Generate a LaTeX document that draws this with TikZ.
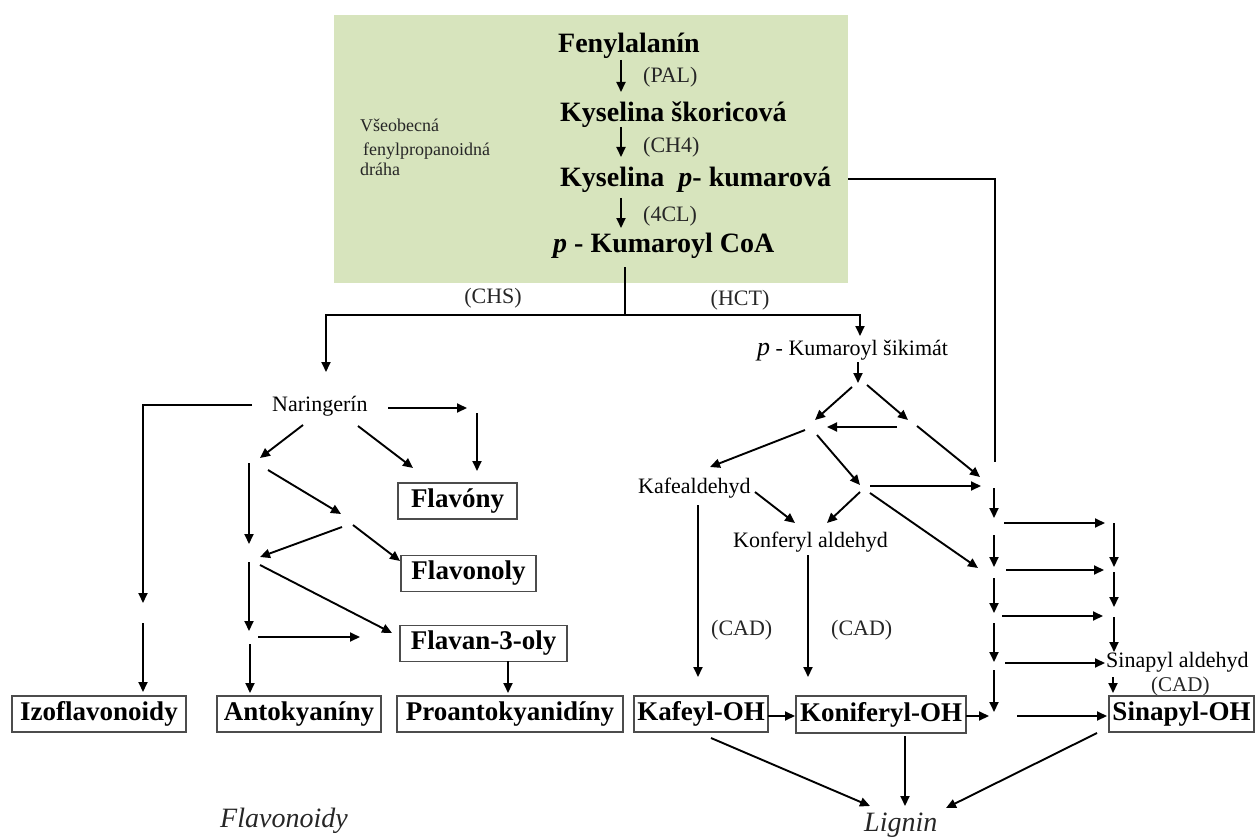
\documentclass[tikz,border=0pt]{standalone}
\usepackage{fontspec}
\setmainfont{Liberation Serif}
\usetikzlibrary{arrows.meta}
\definecolor{boxgreen}{HTML}{D7E4BD}
\begin{document}
\begin{tikzpicture}[x=1pt,y=-1pt,
  arr/.style={line width=1.9pt,-{Triangle[length=10pt,width=9pt]}},
  ln/.style={line width=1.8pt},
  bigtxt/.style={font=\fontsize{28}{32}\selectfont\bfseries,anchor=base west,inner sep=0},
  reg/.style={font=\fontsize{22}{26}\selectfont,anchor=base west,inner sep=0},
  enz/.style={font=\fontsize{22}{26}\selectfont,anchor=base west,inner sep=0,text=black!85},
  small/.style={font=\fontsize{18}{22}\selectfont,anchor=base west,inner sep=0,text=black!85},
  prod/.style={draw=black!70,line width=1.2pt,font=\fontsize{27}{30}\selectfont\bfseries,inner sep=0,minimum height=36pt},
  ital/.style={font=\fontsize{28}{32}\selectfont\itshape,anchor=base west,inner sep=0,text=black!85},
]
\useasboundingbox (0,0) rectangle (1255,837);
% general pathway box
\node[fill=boxgreen,inner sep=0,minimum width=514pt,minimum height=268pt,anchor=north west] (general) at (334,15) {};
\node[small] (vs1) at (360,132) {Všeobecná};
\node[small] (vs2) at (363,156) {fenylpropanoidná};
\node[small] (vs3) at (360,176) {dráha};
\node[bigtxt] (fen) at (558,53) {Fenylalanín};
\node[bigtxt] (sko) at (560,122) {Kyselina škoricová};
\node[bigtxt] (kum) at (560,187) {Kyselina\hspace{0.5em}\textit{p}- kumarová};
\node[bigtxt] (coa) at (553,252) {\textit{p} - Kumaroyl CoA};
\node[enz] (pal) at (643,83) {(PAL)};
\node[enz] (ch4) at (643,153) {(CH4)};
\node[enz] (cl4) at (643,222) {(4CL)};
\coordinate (a1s) at (621,60);  \coordinate (a1e) at (621,92);
\coordinate (a2s) at (621,127); \coordinate (a2e) at (621,157);
\coordinate (a3s) at (621,198); \coordinate (a3e) at (621,228);
\draw[arr] (a1s) -- (a1e);
\draw[arr] (a2s) -- (a2e);
\draw[arr] (a3s) -- (a3e);
% split
\coordinate (coaout) at (625,267);
\coordinate (split) at (625,315);
\coordinate (narin) at (326,372);
\coordinate (sikin) at (860,336);
\draw[ln] (coaout) -- (split);
\draw[arr] (split) -| (narin);
\draw[arr] (split) -| (sikin);
\node[enz,anchor=base] (chs) at (493,303) {(CHS)};
\node[enz,anchor=base] (hct) at (740,305) {(HCT)};
% kumarova bypass line
\coordinate (kumout) at (848,179);
\coordinate (kumcorner) at (995,179);
\coordinate (kumend) at (995,462);
\draw[ln] (kumout) -- (kumcorner) -- (kumend);

% ---------- flavonoids ----------
\node[reg] (nar) at (272,411) {Naringerín};
\node[prod,minimum width=119pt] (flavony) at (457.5,501) {Flavóny};
\node[prod,minimum width=135pt] (flavonoly) at (468.5,573.5) {Flavonoly};
\node[prod,minimum width=167pt] (flavan) at (483.5,643.5) {Flavan-3-oly};
\node[prod,minimum width=174pt] (izo) at (99,714) {Izoflavonoidy};
\node[prod,minimum width=164pt] (anto) at (299,714) {Antokyaníny};
\node[prod,minimum width=226pt] (proanto) at (510,714) {Proantokyanidíny};
\node[ital] (flavonoidy) at (220,827) {Flavonoidy};

\coordinate (n1s) at (252,405); \coordinate (n1e) at (143,603);
\coordinate (n2s) at (143,623); \coordinate (n2e) at (143,692);
\coordinate (n3s) at (388,408); \coordinate (n3e) at (467,408);
\coordinate (n4s) at (477,413); \coordinate (n4e) at (477,471);
\coordinate (n5s) at (303,425); \coordinate (n5e) at (260,458);
\coordinate (n6s) at (358,426); \coordinate (n6e) at (413,468);
\coordinate (n7s) at (249,463); \coordinate (n7e) at (249,544);
\coordinate (n8s) at (268,470); \coordinate (n8e) at (341,514);
\coordinate (n9s) at (342,527); \coordinate (n9e) at (260,557);
\coordinate (n10s) at (353,525); \coordinate (n10e) at (400,561);
\coordinate (n11s) at (249,562); \coordinate (n11e) at (249,631);
\coordinate (n12s) at (260,565); \coordinate (n12e) at (392,633);
\coordinate (n13s) at (258,637); \coordinate (n13e) at (360,637);
\coordinate (n14s) at (250,644); \coordinate (n14e) at (250,693);
\coordinate (n15s) at (508,661); \coordinate (n15e) at (508,693);
\draw[arr] (n1s) -| (n1e);
\draw[arr] (n2s) -- (n2e);
\draw[arr] (n3s) -- (n3e);
\draw[arr] (n4s) -- (n4e);
\draw[arr] (n5s) -- (n5e);
\draw[arr] (n6s) -- (n6e);
\draw[arr] (n7s) -- (n7e);
\draw[arr] (n8s) -- (n8e);
\draw[arr] (n9s) -- (n9e);
\draw[arr] (n10s) -- (n10e);
\draw[arr] (n11s) -- (n11e);
\draw[arr] (n12s) -- (n12e);
\draw[arr] (n13s) -- (n13e);
\draw[arr] (n14s) -- (n14e);
\draw[arr] (n15s) -- (n15e);

% ---------- lignin ----------
\node[reg] (sik) at (757,355) {{\fontsize{26}{28}\selectfont\itshape p} - Kumaroyl šikimát};
\node[reg] (kafald) at (638,493) {Kafealdehyd};
\node[reg] (konald) at (733,547) {Konferyl aldehyd};
\node[enz] (cad1) at (711,635) {(CAD)};
\node[enz] (cad2) at (831,635) {(CAD)};
\node[reg] (sinald) at (1106,667) {Sinapyl aldehyd};
\node[enz,font=\fontsize{21}{24}\selectfont] (cad3) at (1151,691) {(CAD)};
\node[prod,minimum width=134pt] (kafeyl) at (701,714) {Kafeyl-OH};
\node[prod,minimum width=170pt,minimum height=37pt] (konif) at (881,714.5) {Koniferyl-OH};
\node[prod,minimum width=145pt] (sinoh) at (1181.5,714) {Sinapyl-OH};
\node[ital] (lignin) at (864,831) {Lignin};

\coordinate (la1) at (858,362); \coordinate (la2) at (858,383);
\coordinate (lb1) at (852,387); \coordinate (lb2) at (815,420);
\coordinate (lc1) at (867,385); \coordinate (lc2) at (908,420);
\coordinate (ld1) at (897,427); \coordinate (ld2) at (827,427);
\coordinate (le1) at (805,430); \coordinate (le2) at (710,467);
\coordinate (lf1) at (817,435); \coordinate (lf2) at (860,485);
\coordinate (lg1) at (917,426); \coordinate (lg2) at (980,477);
\coordinate (lh1) at (870,486); \coordinate (lh2) at (981,486);
\coordinate (li1) at (860,492); \coordinate (li2) at (827,523);
\coordinate (lj1) at (870,493); \coordinate (lj2) at (978,568);
\coordinate (lk1) at (755,492); \coordinate (lk2) at (795,523);
\coordinate (ll1) at (698,505); \coordinate (ll2) at (698,677);
\coordinate (lm1) at (808,555); \coordinate (lm2) at (808,677);
\coordinate (ln1) at (768,716); \coordinate (ln2) at (795,716);
\coordinate (lo1) at (966,716); \coordinate (lo2) at (989,716);
\coordinate (lp1) at (1017,716); \coordinate (lp2) at (1107,716);
\draw[arr] (la1) -- (la2);
\draw[arr] (lb1) -- (lb2);
\draw[arr] (lc1) -- (lc2);
\draw[arr] (ld1) -- (ld2);
\draw[arr] (le1) -- (le2);
\draw[arr] (lf1) -- (lf2);
\draw[arr] (lg1) -- (lg2);
\draw[arr] (lh1) -- (lh2);
\draw[arr] (li1) -- (li2);
\draw[arr] (lj1) -- (lj2);
\draw[arr] (lk1) -- (lk2);
\draw[arr] (ll1) -- (ll2);
\draw[arr] (lm1) -- (lm2);
\draw[arr] (ln1) -- (ln2);
\draw[arr] (lo1) -- (lo2);
\draw[arr] (lp1) -- (lp2);
% right columns
\coordinate (r1a) at (994,488);  \coordinate (r1b) at (994,518);
\coordinate (r2a) at (1004,523); \coordinate (r2b) at (1105,523);
\coordinate (r3a) at (1114,523); \coordinate (r3b) at (1114,567);
\coordinate (r4a) at (994,535);  \coordinate (r4b) at (994,567);
\coordinate (r5a) at (1006,570); \coordinate (r5b) at (1104,570);
\coordinate (r6a) at (1114,572); \coordinate (r6b) at (1114,607);
\coordinate (r7a) at (994,578);  \coordinate (r7b) at (994,613);
\coordinate (r8a) at (1002,616); \coordinate (r8b) at (1103,616);
\coordinate (r9a) at (1114,617); \coordinate (r9b) at (1114,652);
\coordinate (r10a) at (994,623); \coordinate (r10b) at (994,662);
\coordinate (r11a) at (1005,663); \coordinate (r11b) at (1105,663);
\coordinate (r12a) at (1113,677); \coordinate (r12b) at (1113,693);
\coordinate (r13a) at (994,670); \coordinate (r13b) at (994,712);
\foreach \i in {1,...,13} {\draw[arr] (r\i a) -- (r\i b);}
% to lignin
\coordinate (g1a) at (711,738);  \coordinate (g1b) at (870,806);
\coordinate (g2a) at (905,736);  \coordinate (g2b) at (905,806);
\coordinate (g3a) at (1097,733); \coordinate (g3b) at (946,808);
\draw[arr] (g1a) -- (g1b);
\draw[arr] (g2a) -- (g2b);
\draw[arr] (g3a) -- (g3b);
\end{tikzpicture}
\end{document}
